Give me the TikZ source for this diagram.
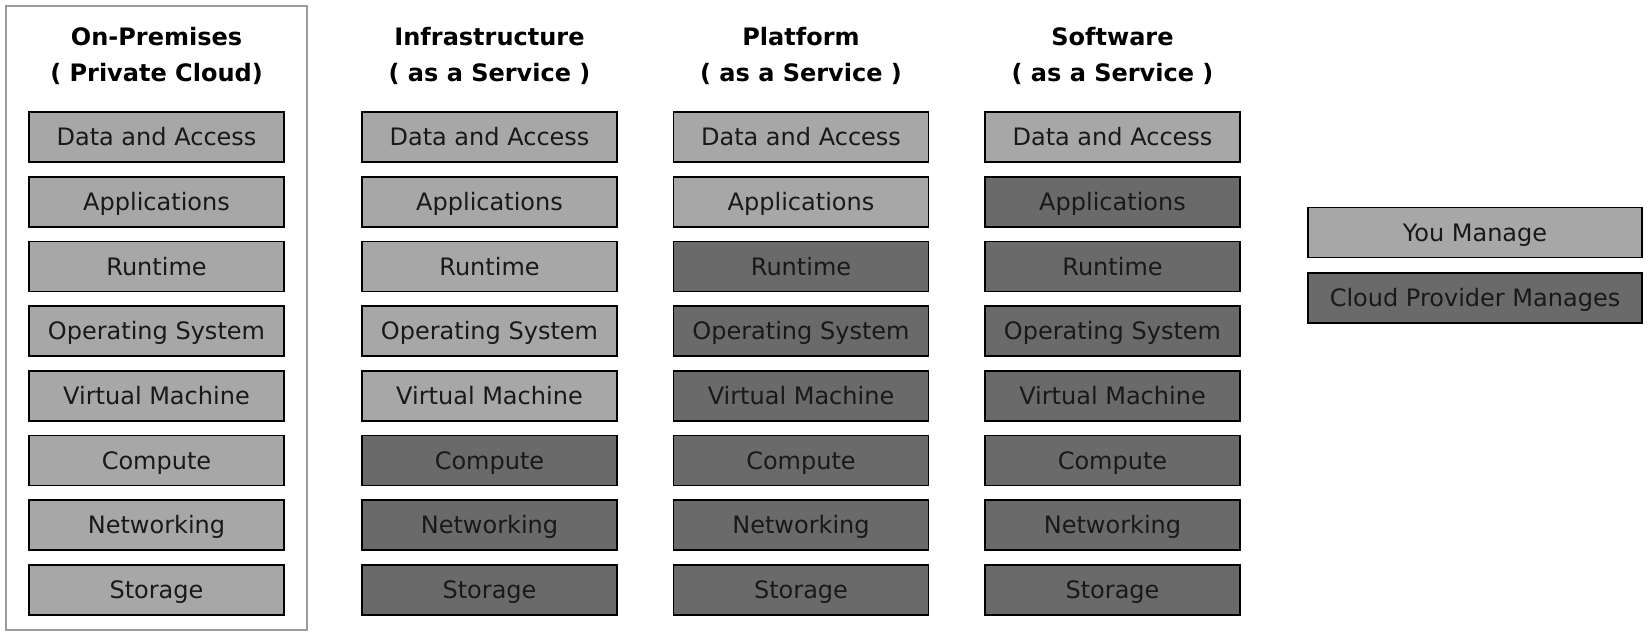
\documentclass[tikz,border=0pt]{standalone}
\usepackage{fontspec}
\setmainfont{DejaVu Sans}
\definecolor{lightfill}{RGB}{167,167,167}
\definecolor{darkfill}{RGB}{106,106,106}
\definecolor{framegray}{RGB}{155,155,155}
\definecolor{txt}{RGB}{25,25,25}
\tikzset{
  layer/.style={draw=black, line width=0.9pt, minimum width=127.5pt, minimum height=25pt,
    inner sep=0pt, text height=8.75pt, text depth=0pt, text=txt,
    font=\fontsize{12}{14}\selectfont},
  you/.style={layer, fill=lightfill},
  prov/.style={layer, fill=darkfill},
  legendbox/.style={minimum width=167pt},
  title/.style={anchor=base, inner sep=0pt, font=\fontsize{12}{14}\selectfont\bfseries, text=black},
}
\begin{document}
\begin{tikzpicture}[x=0.5pt, y=-0.5pt]
\useasboundingbox (0,0) rectangle (1650,637);
% frame around on-premises
\draw[framegray, line width=1pt] (6,6) rectangle (307,630);
% titles
\node[title] (t1a) at (156.5,46) {On-Premises};
\node[title] (t1b) at (156.5,81) {( Private Cloud)};
\node[title] (t2a) at (489.5,46) {Infrastructure};
\node[title] (t2b) at (489.5,81) {( as a Service )};
\node[title] (t3a) at (801,46) {Platform};
\node[title] (t3b) at (801,81) {( as a Service )};
\node[title] (t4a) at (1112.5,46) {Software};
\node[title] (t4b) at (1112.5,81) {( as a Service )};
% layers
\foreach \lab [count=\r] in {Data and Access,Applications,Runtime,Operating System,Virtual Machine,Compute,Networking,Storage}{
  \pgfmathsetmacro{\yy}{137+64.7*(\r-1)}
  \node[you] (c1r\r) at (156.5,\yy) {\lab};
  \ifnum\r<6 \node[you] (c2r\r) at (489.5,\yy) {\lab};\else \node[prov] (c2r\r) at (489.5,\yy) {\lab};\fi
  \ifnum\r<3 \node[you] (c3r\r) at (801,\yy) {\lab};\else \node[prov] (c3r\r) at (801,\yy) {\lab};\fi
  \ifnum\r<2 \node[you] (c4r\r) at (1112.5,\yy) {\lab};\else \node[prov] (c4r\r) at (1112.5,\yy) {\lab};\fi
}
% legend
\node[you, legendbox] (leg1) at (1475,232.5) {You Manage};
\node[prov, legendbox] (leg2) at (1475,298) {Cloud Provider Manages};
\end{tikzpicture}
\end{document}
